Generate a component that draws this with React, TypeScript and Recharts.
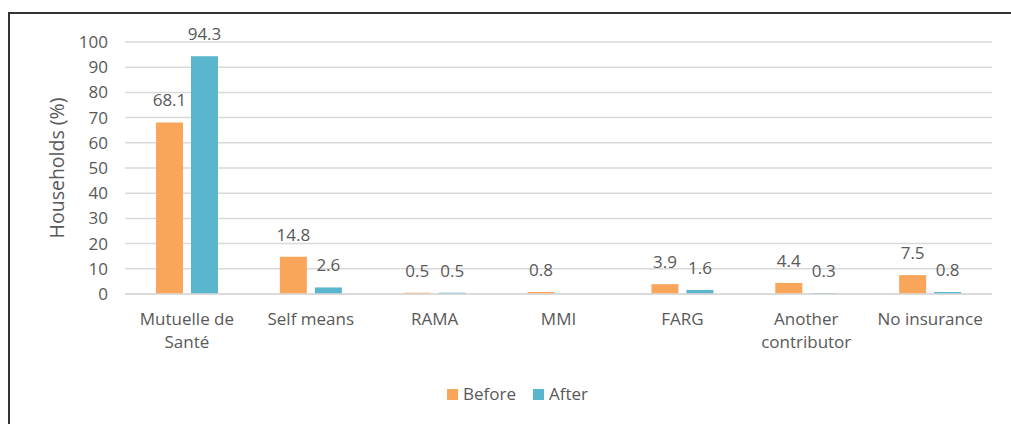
import React from "react";
import { BarChart, Bar, XAxis, YAxis, CartesianGrid, LabelList, Label } from "recharts";

const categories = ["Mutuelle de Santé", "Self means", "RAMA", "MMI", "FARG", "Another contributor", "No insurance"];
const categoryLines = [["Mutuelle de", "Santé"], ["Self means"], ["RAMA"], ["MMI"], ["FARG"], ["Another", "contributor"], ["No insurance"]];
const beforeValues: (number | null)[] = [68.1, 14.8, 0.5, 0.8, 3.9, 4.4, 7.5];
const afterValues: (number | null)[] = [94.3, 2.6, 0.5, null, 1.6, 0.3, 0.8];
const yTicks = [0, 10, 20, 30, 40, 50, 60, 70, 80, 90, 100];

const data = categories.map((c, i) => ({
  name: c,
  before: beforeValues[i],
  after: afterValues[i],
}));

const FONT = "'Open Sans', sans-serif";
const TEXT = "#595959";
const ORANGE = "#F9A65A";
const TEAL = "#5AB6CC";

const XTick = (props: any) => {
  const { x, y, payload } = props;
  const idx = categories.indexOf(payload.value);
  const lines = idx >= 0 ? categoryLines[idx] : [payload.value];
  return (
    <g transform={`translate(${x},${y})`}>
      {lines.map((l: string, i: number) => (
        <text key={i} x={0} y={i * 23} dy={6} textAnchor="middle" fill={TEXT} fontSize={17} fontFamily={FONT}>
          {l}
        </text>
      ))}
    </g>
  );
};

export default function App() {
  return (
    <div style={{ position: "absolute", left: 0, top: 0, width: 1011, height: 424, background: "#fff", overflow: "hidden" }}>
      <div style={{ position: "absolute", left: 8, top: 12, width: 1100, height: 500, border: "2px solid #333", boxSizing: "border-box" }} />
      <BarChart
        width={1011}
        height={424}
        data={data}
        margin={{ top: 42, right: 19, bottom: 100, left: 65 }}
        barSize={27}
        barGap={8}
        style={{ position: "absolute", left: 0, top: 0 }}
      >
        <CartesianGrid vertical={false} stroke="#d9d9d9" strokeWidth={1.5} />
        <XAxis
          dataKey="name"
          height={30}
          axisLine={{ stroke: "#d9d9d9", strokeWidth: 1.5 }}
          tickLine={false}
          tickSize={0}
          tickMargin={25}
          interval={0}
          tick={<XTick />}
        />
        <YAxis
          width={60}
          domain={[0, 100]}
          ticks={yTicks}
          interval={0}
          axisLine={false}
          tickLine={false}
          tickSize={0}
          tickMargin={17}
          tick={{ fill: TEXT, fontSize: 17, fontFamily: FONT }}
        >
          <Label
            value="Households (%)"
            angle={-90}
            position="insideLeft"
            offset={-8}
            style={{ fill: TEXT, fontSize: 19.5, fontFamily: FONT, textAnchor: "middle" }}
          />
        </YAxis>
        <Bar dataKey="before" fill={ORANGE} isAnimationActive={false}>
          <LabelList dataKey="before" position="top" offset={16} fill={TEXT} fontSize={17} fontFamily={FONT} />
        </Bar>
        <Bar dataKey="after" fill={TEAL} isAnimationActive={false}>
          <LabelList dataKey="after" position="top" offset={16} fill={TEXT} fontSize={17} fontFamily={FONT} />
        </Bar>
      </BarChart>
      <div style={{ position: "absolute", left: 447, top: 383, display: "flex", alignItems: "center", fontFamily: FONT, fontSize: 17, color: TEXT, lineHeight: "22px" }}>
        <span style={{ display: "inline-block", width: 11, height: 11, background: ORANGE, marginRight: 5 }} />
        <span>Before</span>
        <span style={{ display: "inline-block", width: 11, height: 11, background: TEAL, marginLeft: 17, marginRight: 5 }} />
        <span>After</span>
      </div>
    </div>
  );
}
